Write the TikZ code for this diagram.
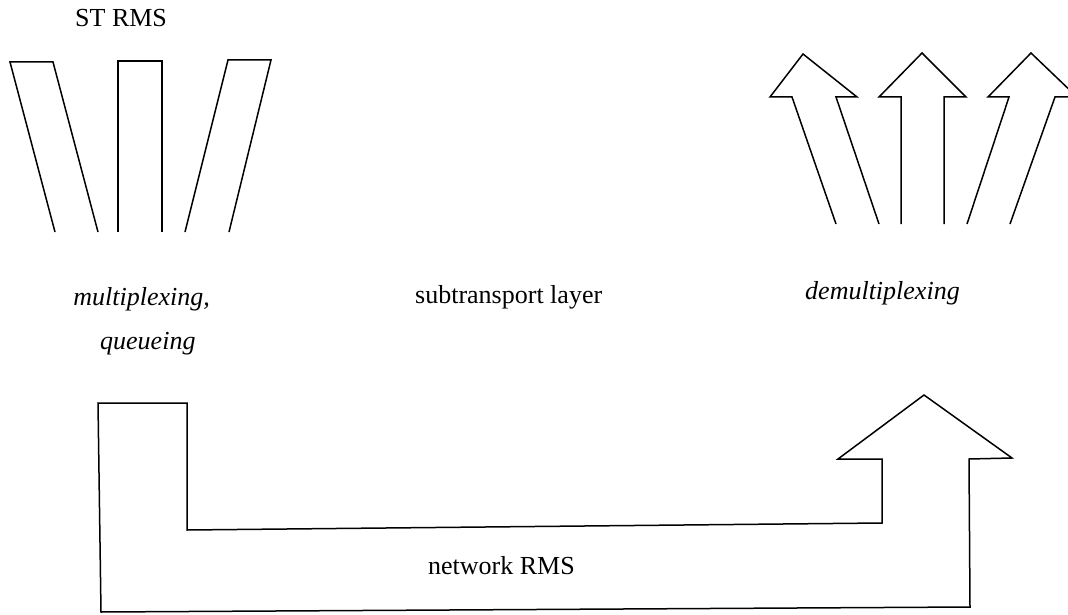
\documentclass[tikz,border=0pt]{standalone}
\usepackage{fontspec}
\setmainfont{Liberation Serif}
\begin{document}
\begin{tikzpicture}[x=1pt,y=-1pt,
  outline/.style={draw=black,line width=1.5pt,line join=miter},
  lbl/.style={inner sep=0pt,font=\fontsize{26}{31}\selectfont},
  ilbl/.style={lbl,font=\fontsize{26}{31}\selectfont\itshape}]
\clip (0,0) rectangle (1068,615);
\fill[white] (0,0) rectangle (1068,615);

% incoming subtransport streams (open at the bottom)
\draw[outline] (55,232) -- (10,62) -- (53,62) -- (98,232);
\draw[outline] (118,232) -- (118,61) -- (162,61) -- (162,232);
\draw[outline] (185,232) -- (228,60) -- (271,60) -- (229,232);

% outgoing subtransport streams
\draw[outline] (836,224) -- (792,97) -- (770,97) -- (803,54) -- (857,97) -- (836,97) -- (879,224);
\draw[outline] (901,224) -- (901,97) -- (879,97) -- (922,53) -- (966,97) -- (944,97) -- (944,224);
\draw[outline] (967,224) -- (1009,97) -- (988,97) -- (1031,53) -- (1077,97) -- (1055,97) -- (1010,224);

% network stream
\draw[outline] (98,403) -- (187,403) -- (187,530) -- (882,523) -- (882,459) -- (838,459)
  -- (924,395) -- (1012,458) -- (969,459) -- (970,607) -- (101,612) -- cycle;

% labels
\node[lbl,anchor=base west] (strms) at (75,27) {ST RMS};
\node[ilbl,anchor=base east] (mux) at (210,305) {multiplexing,};
\node[ilbl,anchor=base west] (queue) at (100,349) {queueing};
\node[lbl,anchor=base west] (layer) at (415,303) {subtransport layer};
\node[ilbl,anchor=base west] (demux) at (805,299) {demultiplexing};
\node[lbl,anchor=base west] (netrms) at (428,574) {network RMS};
\end{tikzpicture}
\end{document}
